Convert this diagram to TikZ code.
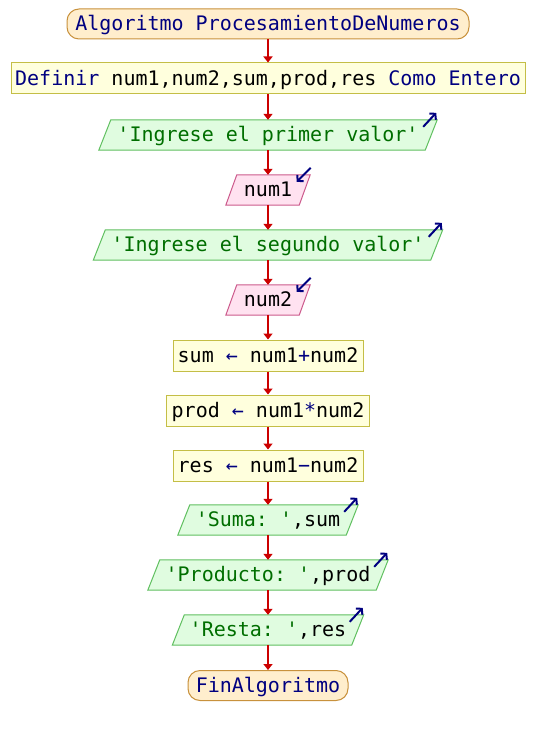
\documentclass[tikz,border=0pt]{standalone}
\usepackage{fontspec}
\setmonofont{DejaVu Sans Mono}
\usetikzlibrary{arrows.meta,calc,backgrounds}

\definecolor{kw}{RGB}{0,0,128}
\definecolor{str}{RGB}{0,110,0}
\definecolor{flow}{RGB}{204,0,0}
\definecolor{termfill}{RGB}{255,238,205}
\definecolor{termdraw}{RGB}{200,145,60}
\definecolor{procfill}{RGB}{255,255,221}
\definecolor{procdraw}{RGB}{196,190,70}
\definecolor{outfill}{RGB}{224,252,224}
\definecolor{outdraw}{RGB}{96,192,96}
\definecolor{infill}{RGB}{255,226,240}
\definecolor{indraw}{RGB}{204,90,140}

\tikzset{
  base/.style={font=\ttfamily\fontsize{20}{24}\selectfont, inner sep=0pt,
    minimum height=30pt, text height=14pt, text depth=0.6pt},
  term/.style={base, draw=termdraw, fill=termfill, rounded corners=12pt,
    line width=1pt, text=kw},
  proc/.style={base, draw=procdraw, fill=procfill, line width=1pt, minimum height=31pt},
  iobox/.style={base},
  outshape/.style={draw=outdraw, fill=outfill, line width=1pt},
  inshape/.style={draw=indraw, fill=infill, line width=1pt},
  flowline/.style={draw=flow, line width=1.6pt, -{Triangle[width=9pt,length=6pt]}},
  icon/.style={draw=kw, line width=2pt, -{Straight Barb[length=4pt,width=9pt]}},
}

\begin{document}
\begin{tikzpicture}[x=1pt,y=-1pt]
\useasboundingbox (0,0) rectangle (536,735);

% flowchart blocks, top to bottom
\node[term, minimum width=402pt] (start) at (268,24) {Algoritmo ProcesamientoDeNumeros};
\node[proc, minimum width=514pt] (def) at (268,78.5)
  {\textcolor{kw}{Definir} num1,num2,sum,prod,res \textcolor{kw}{Como Entero}};
\node[iobox, minimum width=326pt, text=str] (o1) at (268,135) {'Ingrese el primer valor'};
\node[iobox, minimum width=73pt] (i1) at (268,190) {num1};
\node[iobox, minimum width=337pt, text=str] (o2) at (268,245) {'Ingrese el segundo valor'};
\node[iobox, minimum width=73pt] (i2) at (268,300) {num2};
\node[proc, minimum width=190pt] (asum) at (268,355.5)
  {sum \textcolor{kw}{←} num1\textcolor{kw}{+}num2};
\node[proc, minimum width=203pt] (aprod) at (268,410.5)
  {prod \textcolor{kw}{←} num1\textcolor{kw}{*}num2};
\node[proc, minimum width=190pt] (ares) at (268,465.5)
  {res \textcolor{kw}{←} num1\textcolor{kw}{−}num2};
\node[iobox, minimum width=168pt] (s1) at (268,520) {\textcolor{str}{'Suma: '},sum};
\node[iobox, minimum width=228pt] (s2) at (268,575) {\textcolor{str}{'Producto: '},prod};
\node[iobox, minimum width=179pt] (s3) at (268,630) {\textcolor{str}{'Resta: '},res};
\node[term, minimum width=160pt] (stop) at (268,685.5) {FinAlgoritmo};

% slanted input/output shapes behind their text
\begin{scope}[on background layer]
  \fill[white] (0,0) rectangle (536,735);
  \foreach \n/\k/\s in {o1/outshape/6, i1/inshape/5.5, o2/outshape/6, i2/inshape/5.5,
                        s1/outshape/6, s2/outshape/6, s3/outshape/6}
    \path[\k] ($(\n.south west)+(-\s,0)$) -- ($(\n.south east)+(-\s,0)$)
           -- ($(\n.north east)+(\s,0)$) -- ($(\n.north west)+(\s,0)$) -- cycle;
\end{scope}

% output markers (arrow leaving the block)
\foreach \n in {o1,o2,s1,s2,s3}
  \draw[icon] ($(\n.north east)+(-8,7)$) -- ($(\n.north east)+(5,-7)$);
% input markers (arrow entering the block)
\foreach \n in {i1,i2}
  \draw[icon] ($(\n.north east)+(6,-7)$) -- ($(\n.north east)+(-8,7)$);

% flow connectors
\foreach \a/\b in {start/def, def/o1, o1/i1, i1/o2, o2/i2, i2/asum, asum/aprod,
                   aprod/ares, ares/s1, s1/s2, s2/s3, s3/stop}
  \draw[flowline] (\a) -- (\b);
\end{tikzpicture}
\end{document}
